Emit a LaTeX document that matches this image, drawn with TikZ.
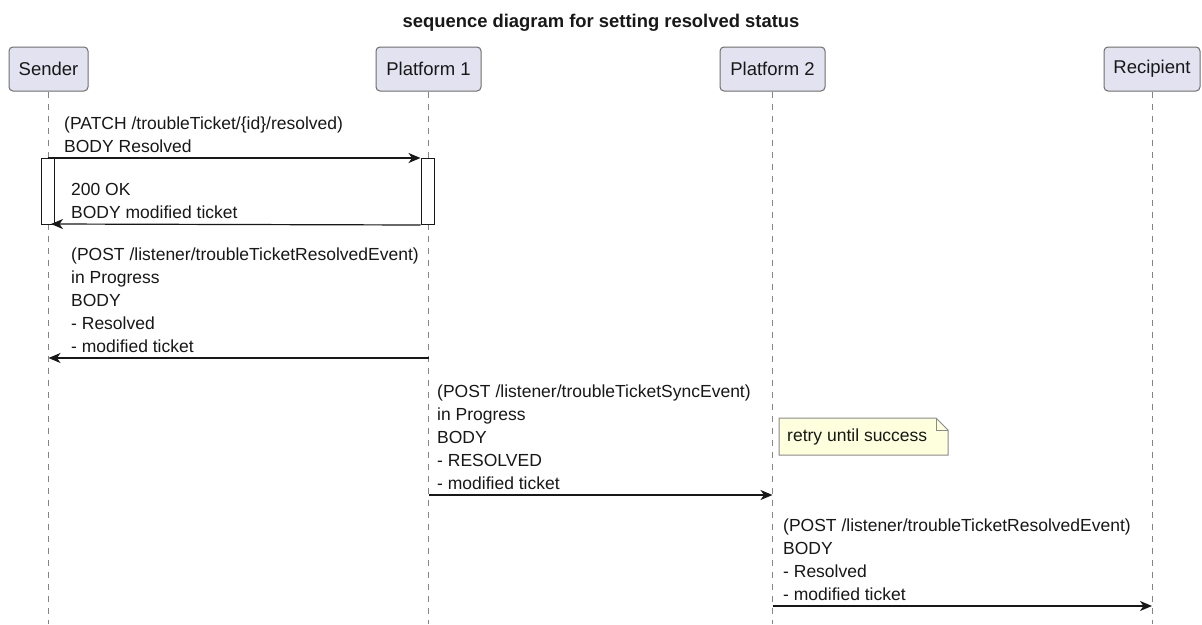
\documentclass[tikz,border=0pt]{standalone}
\usepackage{fontspec}
\setmainfont{Liberation Sans}
\usetikzlibrary{arrows.meta}
\definecolor{partfill}{HTML}{E2E2F0}
\definecolor{partline}{HTML}{6E6E6E}
\definecolor{lifecol}{HTML}{858585}
\definecolor{ink}{HTML}{181818}
\definecolor{notefill}{HTML}{FEFFDD}
\definecolor{noteline}{HTML}{8A8A8A}
\newcommand\ls{\rule[-6pt]{0pt}{17pt}}
\begin{document}
\begin{tikzpicture}[x=1pt,y=-1pt,
  part/.style={draw=partline, fill=partfill, rounded corners=4pt, line width=1pt,
    minimum height=44pt, inner sep=0pt, font=\fontsize{18.5}{22}\selectfont, text=ink},
  life/.style={draw=lifecol, line width=1pt, dash pattern=on 6pt off 6pt},
  msg/.style={draw=ink, line width=1.2pt, -{Stealth[length=12pt,width=10pt,inset=3.5pt]}},
  lbl/.style={anchor=south west, inner sep=0pt, align=left,
    font=\fontsize{17.5}{23.2}\selectfont, text=ink},
  act/.style={draw=ink, fill=white, line width=1pt, inner sep=0pt,
    minimum width=13pt, minimum height=66pt, anchor=north}]
\useasboundingbox (0,0) rectangle (1202,624);
\fill[white] (0,0) rectangle (1202,624);

\node[font=\bfseries\fontsize{18.4}{22}\selectfont, text=ink, anchor=base] (title) at (601,27)
  {sequence diagram for setting resolved status};

% participants
\node[part, minimum width=79pt]  (sender) at (48.5,69)  {Sender};
\node[part, minimum width=105pt] (p1)     at (428.5,69) {Platform 1};
\node[part, minimum width=105pt] (p2)     at (772.5,69) {Platform 2};
\node[part, minimum width=96pt]  (rcp)    at (1152,69)  {Recipient};

% lifelines
\coordinate (sBot) at (48.5,624);
\coordinate (p1Bot) at (428.5,624);
\coordinate (p2Bot) at (772.5,624);
\coordinate (rBot) at (1152,624);
\draw[life] (sender.south) -- (sBot);
\draw[life] (p1.south) -- (p1Bot);
\draw[life] (p2.south) -- (p2Bot);
\draw[life] (rcp.south) -- (rBot);

% activations
\node[act] (sact) at (47.5,158) {};
\node[act] (pact) at (427.5,158) {};

% message 1
\draw[msg] (sact.north) -- (pact.north west);
\node[lbl] (l1) at (64,159) {(PATCH /troubleTicket/\{id\}/resolved)\ls\\BODY Resolved\ls};

% message 2
\coordinate (r2) at (51,224);
\draw[msg] (pact.south west) -- (r2);
\node[lbl] (l2) at (71,225) {200 OK\ls\\BODY modified ticket\ls};

% message 3
\coordinate (m3a) at (428.5,358);
\coordinate (m3b) at (48.5,358);
\draw[msg] (m3a) -- (m3b);
\node[lbl] (l3) at (71,359) {(POST /listener/troubleTicketResolvedEvent)\ls\\in Progress\ls\\BODY\ls\\- Resolved\ls\\- modified ticket\ls};

% message 4
\coordinate (m4a) at (428.5,495);
\coordinate (m4b) at (772.5,495);
\draw[msg] (m4a) -- (m4b);
\node[lbl] (l4) at (437,496) {(POST /listener/troubleTicketSyncEvent)\ls\\in Progress\ls\\BODY\ls\\- RESOLVED\ls\\- modified ticket\ls};

% note
\draw[draw=noteline, fill=notefill, line width=1pt]
  (779,418) -- (936,418) -- (948,430) -- (948,455) -- (779,455) -- cycle;
\draw[draw=noteline, line width=1pt] (936,418) -- (936,430) -- (948,430);
\node[anchor=west, inner sep=0pt, font=\fontsize{17.5}{22}\selectfont, text=ink] (note) at (787,437) {retry until success};

% message 5
\coordinate (m5a) at (772.5,606);
\coordinate (m5b) at (1152,606);
\draw[msg] (m5a) -- (m5b);
\node[lbl] (l5) at (783,607) {(POST /listener/troubleTicketResolvedEvent)\ls\\BODY\ls\\- Resolved\ls\\- modified ticket\ls};
\end{tikzpicture}
\end{document}
